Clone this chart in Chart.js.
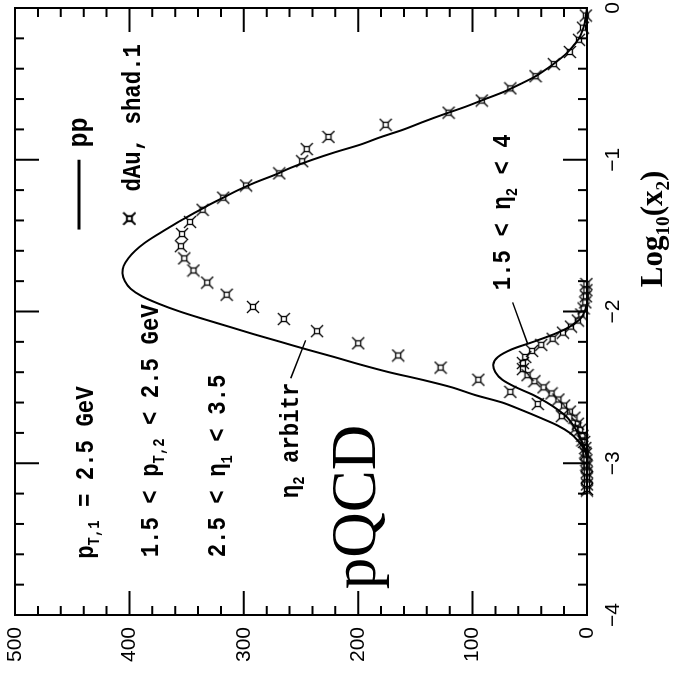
<!DOCTYPE html>
<html>
<head>
<meta charset="utf-8">
<script src="https://cdn.jsdelivr.net/npm/chart.js@4/dist/chart.umd.min.js"></script>
<style>
  html, body { margin: 0; padding: 0; background: #fff; overflow: hidden; }
  /* the plot is drawn upright and turned a quarter turn, as in the printed figure */
  #wrap {
    position: absolute; left: 0; top: 0; width: 679px; height: 673px;
    transform-origin: 0 0; transform: translateY(679px) rotate(-90deg);
  }
</style>
</head>
<body>
<div id="wrap"><canvas id="chart" width="679" height="673"></canvas></div>
<script>
// pp, eta2 arbitrary (solid line)
const ppWideLogX = [-2.95, -2.90, -2.85, -2.80, -2.75, -2.70, -2.65, -2.60, -2.55, -2.50,
  -2.45, -2.40, -2.35, -2.30, -2.25, -2.20, -2.15, -2.10, -2.05, -2.00,
  -1.95, -1.90, -1.85, -1.80, -1.75, -1.70, -1.65, -1.60, -1.55, -1.50,
  -1.45, -1.40, -1.35, -1.30, -1.25, -1.20, -1.15, -1.10, -1.05, -1.00,
  -0.95, -0.90, -0.85, -0.80, -0.75, -0.70, -0.65, -0.60, -0.55, -0.50,
  -0.45, -0.40, -0.35, -0.30, -0.25, -0.20, -0.15, -0.10, -0.05, 0.00];
const ppWide = [0, 3, 8, 15, 26, 41, 57, 74, 98, 118,
  144, 173, 198, 221, 245, 268, 291, 313, 335, 356,
  374, 389, 399, 404, 406, 405, 401, 395, 387, 377,
  366, 355, 343, 331, 318, 305, 290, 273, 258, 240,
  220, 198, 180, 160, 143, 125, 106, 89, 72, 58,
  45, 35, 26, 18, 12, 7, 4, 2, 1, 0];

// pp, 1.5 < eta2 < 4 (solid line)
const ppFwdLogX = [-2.95, -2.90, -2.85, -2.80, -2.75, -2.70, -2.65, -2.60, -2.55, -2.50,
  -2.45, -2.40, -2.35, -2.30, -2.25, -2.20, -2.15, -2.10, -2.05, -2.00, -1.95];
const ppFwd = [0, 2, 5, 8, 12, 17, 25, 35, 47, 62,
  74, 80, 82, 78, 66, 47, 29, 15, 6, 2, 0];

// dAu, shad.1, eta2 arbitrary (markers)
const dAuWideLogX = [-3.17, -3.09, -3.01, -2.93, -2.85, -2.77, -2.69, -2.61, -2.53, -2.45,
  -2.37, -2.29, -2.21, -2.13, -2.05, -1.97, -1.89, -1.81, -1.73, -1.65,
  -1.57, -1.49, -1.41, -1.33, -1.25, -1.17, -1.09, -1.01, -0.93, -0.85,
  -0.77, -0.69, -0.61, -0.53, -0.45, -0.37, -0.29, -0.21, -0.13, -0.05];
const dAuWide = [0, 0, 0.5, 1.5, 4, 10, 22, 43, 67, 95,
  128, 165, 200, 236, 265, 292, 315, 332, 344, 352,
  355, 354, 347, 336, 318, 298, 269, 249, 245, 226,
  176, 121, 92, 67, 45, 29, 15, 7, 3.5, 1];

// dAu, shad.1, 1.5 < eta2 < 4 (markers)
const dAuFwdLogX = [-3.18, -3.14, -3.10, -3.06, -3.02, -2.98, -2.94, -2.90, -2.86, -2.82,
  -2.78, -2.74, -2.70, -2.66, -2.62, -2.58, -2.54, -2.50, -2.46, -2.42,
  -2.38, -2.34, -2.30, -2.26, -2.22, -2.18, -2.14, -2.10, -2.06, -2.02,
  -1.98, -1.94, -1.90, -1.86, -1.82];
const dAuFwd = [0, 0, 0.1, 0.2, 0.3, 0.5, 1, 1.5, 2.5, 4,
  6, 8, 11, 15, 20, 25, 31, 38, 46, 52,
  56, 56, 54, 48, 40, 30, 21, 14, 8, 5,
  3, 1.5, 1, 0.5, 0.5];

const xTicks = [-4, -3, -2, -1, 0];
const yTicks = [0, 100, 200, 300, 400, 500];

const pairs = (xs, ys) => xs.map((v, i) => ({ x: v, y: ys[i] }));

// "currency sign" style marker: small box with four diagonal spikes
function makeMarker() {
  const c = document.createElement('canvas');
  c.width = c.height = 14;
  const g = c.getContext('2d');
  g.strokeStyle = '#000';
  g.lineWidth = 1.3;
  g.strokeRect(4.5, 4.5, 5, 5);
  g.beginPath();
  [[4.5, 4.5, 1, 1], [9.5, 4.5, 13, 1], [9.5, 9.5, 13, 13], [4.5, 9.5, 1, 13]].forEach(s => {
    g.moveTo(s[0], s[1]);
    g.lineTo(s[2], s[3]);
  });
  g.stroke();
  return c;
}
const marker = makeMarker();

const MONO = '"Liberation Mono", "DejaVu Sans Mono", monospace';
const SERIF = '"Liberation Serif", "DejaVu Serif", serif';

// text with subscripts; parts are [text, isSub]
function rich(ctx, parts, x, y, size, family, sx, weight) {
  ctx.save();
  ctx.translate(x, y);
  ctx.scale(sx, 1);
  ctx.textAlign = 'left';
  ctx.textBaseline = 'alphabetic';
  let cx = 0;
  for (const [t, sub] of parts) {
    const s = sub ? size * 0.62 : size;
    ctx.font = `${weight} ${s}px ${family}`;
    ctx.fillText(t, cx, sub ? size * 0.24 : 0);
    cx += ctx.measureText(t).width;
  }
  ctx.restore();
}

const labels = [
  { at: [-3.63, 432], parts: [['p'], ['T,1', 1], [' = 2.5 GeV']] },
  { at: [-3.62, 375], parts: [['1.5 < p'], ['T,2', 1], [' < 2.5 GeV']] },
  { at: [-3.62, 316], parts: [['2.5 < \u03b7'], ['1', 1], [' < 3.5']] },
  { at: [-3.23, 253], parts: [['\u03b7'], ['2', 1], [' arbitr']] },
  { at: [-1.86, 67], parts: [['1.5 < \u03b7'], ['2', 1], [' < 4']] },
  { at: [-1.21, 391], parts: [['dAu, shad.1']] }
];
const pointers = [
  [[-2.44, 259], [-2.19, 246]],
  [[-1.94, 65], [-2.21, 52]]
];

const frame = {
  id: 'frame',
  afterDatasetsDraw(chart) {
    const { ctx, chartArea: a, scales: { x, y } } = chart;
    ctx.save();
    ctx.strokeStyle = '#000';
    ctx.fillStyle = '#000';
    ctx.lineWidth = 2;
    ctx.strokeRect(a.left, a.top, a.right - a.left, a.bottom - a.top);

    // inward ticks on all four sides
    ctx.beginPath();
    for (let i = 0; i <= 20; i++) {
      const px = x.getPixelForValue(-4 + i * 0.2);
      const len = i % 5 === 0 ? 24 : 9;
      ctx.moveTo(px, a.bottom); ctx.lineTo(px, a.bottom - len);
      ctx.moveTo(px, a.top); ctx.lineTo(px, a.top + len);
    }
    for (let i = 0; i <= 25; i++) {
      const py = y.getPixelForValue(i * 20);
      const len = i % 5 === 0 ? 24 : 9;
      ctx.moveTo(a.left, py); ctx.lineTo(a.left + len, py);
      ctx.moveTo(a.right, py); ctx.lineTo(a.right - len, py);
    }
    ctx.stroke();

    // annotations
    labels.forEach(l => {
      rich(ctx, l.parts, x.getPixelForValue(l.at[0]), y.getPixelForValue(l.at[1]), 26, MONO, 0.86, 'bold');
    });
    ctx.lineWidth = 1.5;
    ctx.beginPath();
    pointers.forEach(p => {
      ctx.moveTo(x.getPixelForValue(p[0][0]), y.getPixelForValue(p[0][1]));
      ctx.lineTo(x.getPixelForValue(p[1][0]), y.getPixelForValue(p[1][1]));
    });
    ctx.stroke();

    // legend
    ctx.lineWidth = 3;
    ctx.beginPath();
    ctx.moveTo(x.getPixelForValue(-1.46), y.getPixelForValue(444));
    ctx.lineTo(x.getPixelForValue(-1.0), y.getPixelForValue(444));
    ctx.stroke();
    rich(ctx, [['pp']], x.getPixelForValue(-0.92), y.getPixelForValue(437), 28, MONO, 0.9, 'bold');
    const mx = x.getPixelForValue(-1.39), my = y.getPixelForValue(400);
    ctx.drawImage(marker, mx - 7, my - 7);
    ctx.drawImage(marker, mx - 6.5, my - 7);

    // big label
    ctx.font = `63px ${SERIF}`;
    ctx.textAlign = 'left';
    ctx.fillText('pQCD', x.getPixelForValue(-3.83), y.getPixelForValue(185));

    // axis title Log10(x2)
    rich(ctx, [['Log'], ['10', 1], ['(x'], ['2', 1], [')']],
      x.getPixelForValue(-1.84), a.bottom + 75, 31, SERIF, 1, 'bold');
    ctx.restore();
  }
};

const lineSet = (xs, ys) => ({
  data: pairs(xs, ys), showLine: true, borderColor: '#000', borderWidth: 2,
  pointRadius: 0, tension: 0.3, clip: false
});
const markSet = (xs, ys) => ({
  data: pairs(xs, ys), showLine: false, pointStyle: marker, pointRadius: 7, clip: false
});

const tickFont = { family: '"Liberation Sans", Arial, sans-serif', size: 21 };

new Chart(document.getElementById('chart'), {
  type: 'scatter',
  data: {
    datasets: [
      lineSet(ppWideLogX, ppWide),
      lineSet(ppFwdLogX, ppFwd),
      markSet(dAuWideLogX, dAuWide),
      markSet(dAuFwdLogX, dAuFwd)
    ]
  },
  options: {
    responsive: false,
    animation: false,
    devicePixelRatio: 1,
    layout: { padding: { top: 15, right: 5, left: 0, bottom: 0 } },
    plugins: { legend: { display: false }, tooltip: { enabled: false } },
    scales: {
      x: {
        type: 'linear', min: -4, max: 0,
        border: { display: false },
        grid: { display: false, drawTicks: false },
        afterBuildTicks: s => { s.ticks = xTicks.map(v => ({ value: v })); },
        ticks: {
          color: '#000', font: tickFont, padding: 14, maxRotation: 0,
          callback: v => (v < 0 ? '\u2212' + Math.abs(v) : String(v))
        },
        // fixed axis band, labels allowed to overhang the ends
        afterFit: s => { s.height = 86; s.paddingLeft = 0; s.paddingRight = 0; }
      },
      y: {
        type: 'linear', min: 0, max: 500,
        border: { display: false },
        grid: { display: false, drawTicks: false },
        afterBuildTicks: s => { s.ticks = yTicks.map(v => ({ value: v })); },
        ticks: { color: '#000', font: tickFont, padding: 12 },
        afterFit: s => { s.width = 64; s.paddingTop = 0; s.paddingBottom = 0; }
      }
    }
  },
  plugins: [frame]
});
</script>
</body>
</html>
